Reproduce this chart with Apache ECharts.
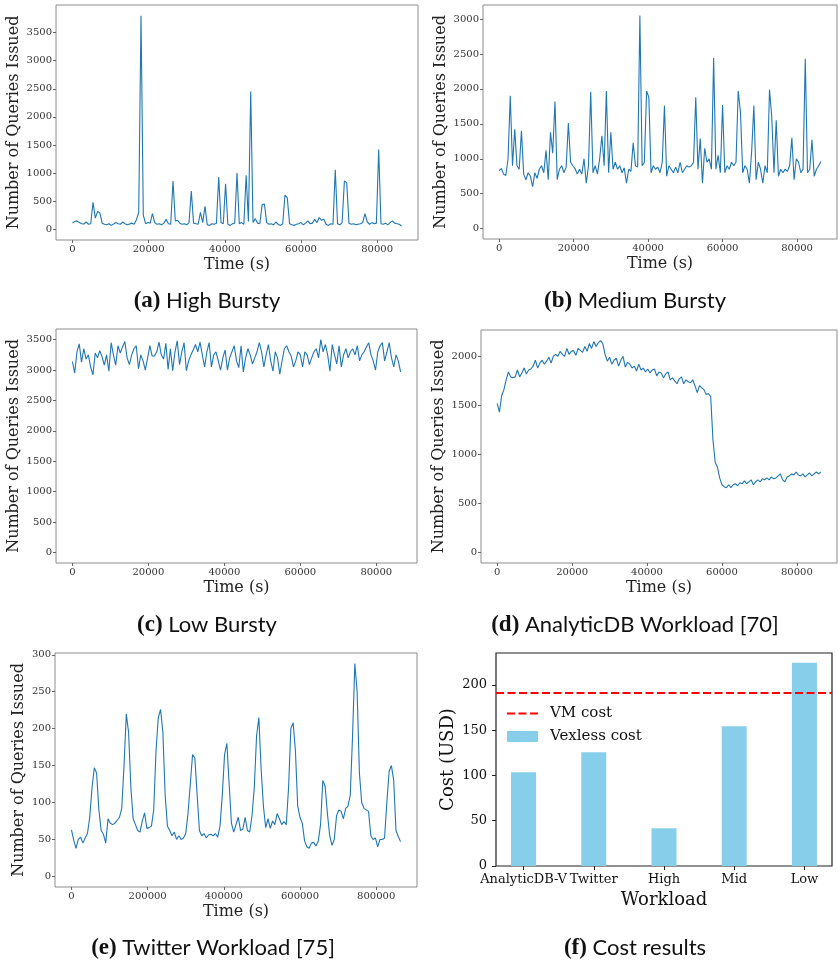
<!DOCTYPE html>
<html>
<head>
<meta charset="utf-8">
<title>Workload traces and cost results</title>
<script src="https://cdn.jsdelivr.net/npm/echarts@6.0.0/dist/echarts.min.js"></script>
<style>
  body, html { margin: 0; padding: 0; width: 100%; height: 100%; overflow: hidden; background: #fff; }
  #main { width: 838px; height: 965px; }
</style>
</head>
<body>
<div id="main"></div>
<script>
// sampling step of the traces, in seconds
const DAY_STEP = 600;
const TWITTER_STEP = 6000;

// (a) High Bursty, one value every 600 s over a day
const highBursty = [
  110, 140, 150, 120, 100, 95, 130, 90, 100, 480, 200, 320, 290, 110, 90, 80, 100, 70, 95, 120,
  100, 90, 130, 100, 80, 95, 110, 90, 170, 300, 3800, 250, 100, 120, 110, 280, 120, 90, 100, 80,
  110, 180, 100, 90, 860, 150, 160, 110, 90, 100, 80, 120, 680, 110, 100, 90, 300, 120, 410, 80,
  70, 100, 90, 110, 930, 120, 100, 810, 90, 70, 100, 110, 1000, 100, 120, 90, 960, 140, 2450, 120,
  190, 110, 100, 440, 450, 120, 90, 100, 80, 130, 90, 70, 100, 610, 560, 100, 80, 70, 90, 100,
  120, 80, 110, 150, 100, 110, 180, 120, 210, 160, 180, 90, 70, 100, 90, 1060, 100, 80, 120, 860,
  830, 110, 90, 100, 80, 90, 100, 120, 280, 130, 90, 120, 100, 110, 1420, 100, 90, 110, 80, 120,
  150, 110, 100, 90, 60
];

// (b) Medium Bursty
const mediumBursty = [
  830, 860, 780, 760, 1000, 1900, 900, 1420, 900, 850, 1400, 780, 700, 800, 750, 600, 800, 720, 850, 900,
  800, 1120, 700, 1380, 1080, 1820, 700, 850, 900, 800, 880, 1510, 950, 900, 860, 780, 850, 780, 1000, 650,
  900, 1960, 800, 900, 780, 1000, 1330, 900, 1970, 800, 1380, 850, 950, 850, 900, 800, 870, 650, 850, 820,
  1230, 900, 880, 3050, 900, 950, 1970, 1880, 800, 900, 850, 880, 800, 950, 1760, 750, 900, 850, 800, 880,
  800, 950, 800, 850, 900, 880, 900, 950, 1880, 850, 1290, 650, 1150, 950, 1000, 850, 2440, 850, 1050, 800,
  1770, 800, 900, 850, 950, 900, 950, 1970, 1670, 800, 900, 850, 650, 1100, 1760, 700, 950, 850, 650, 900,
  800, 1990, 1600, 800, 1550, 750, 850, 800, 850, 820, 900, 1300, 700, 1000, 950, 800, 850, 2430, 800, 850,
  1270, 750, 850, 900, 960
];

// (c) Low Bursty
const lowBursty = [
  3140, 2950, 3300, 3430, 3130, 3350, 3180, 3250, 3050, 2920, 3280, 3200, 3320, 3220, 3080, 3250, 2980, 3450, 3250, 3080,
  3400, 3280, 3380, 3470, 3200, 3090, 3250, 3350, 3400, 3020, 3250, 3150, 3000, 3200, 3400, 3230, 3230, 3300, 3460, 3250,
  3180, 3440, 3010, 3350, 2990, 3300, 3480, 3090, 3300, 3450, 2990, 3150, 3250, 3330, 3420, 3300, 3460, 3250, 3050, 3300,
  3450, 3050, 3250, 3300, 3150, 3000, 3200, 3330, 3000, 3200, 3300, 3400, 3150, 3040, 3400, 2970, 3200, 3350, 3250, 3100,
  3200, 3300, 3450, 3300, 3050, 3250, 3420, 3150, 2980, 3300, 3200, 2930, 3150, 3350, 3400, 3300, 3230, 3050, 3150, 3300,
  3250, 3050, 3300, 3250, 3090, 3200, 3300, 3350, 3200, 3500, 3300, 3420, 3250, 2980, 3420, 3250, 3100, 3400, 3050, 3250,
  3350, 3200, 3300, 3350, 3250, 3400, 3150, 3250, 3300, 3380, 3450, 3250, 3150, 3000, 3300, 3400, 3450, 3150, 3300, 3450,
  3200, 3050, 3250, 3150, 2970
];

// (d) AnalyticDB workload
const analyticDB = [
  1520, 1430, 1600, 1660, 1760, 1840, 1790, 1780, 1790, 1860, 1790, 1830, 1880, 1820, 1860, 1870, 1900, 1960, 1880, 1930,
  1960, 1920, 1950, 1990, 1930, 2000, 2020, 2000, 2050, 2020, 2000, 2080, 2020, 2050, 2060, 2010, 2080, 2060, 2040, 2100,
  2050, 2130, 2080, 2150, 2100, 2140, 2160, 2130, 2020, 1950, 1990, 1920, 1960, 1980, 1900, 1960, 2000, 1890, 1940, 1920,
  1880, 1900, 1850, 1920, 1860, 1880, 1840, 1870, 1830, 1860, 1870, 1800, 1840, 1830, 1780, 1820, 1840, 1760, 1780, 1750,
  1720, 1770, 1790, 1720, 1760, 1740, 1730, 1760, 1700, 1630, 1700, 1680, 1660, 1610, 1620, 1590, 1150, 920, 870, 760,
  690, 670, 660, 690, 660, 690, 700, 680, 710, 700, 730, 700, 720, 740, 690, 720, 740, 720, 750, 740,
  760, 740, 770, 750, 760, 780, 800, 740, 720, 770, 780, 800, 790, 820, 790, 780, 800, 770, 790, 810,
  780, 800, 820, 800, 820
];

// (e) Twitter workload, one value every 6000 s over ten days
const twitter = [
  63, 49, 38, 50, 53, 45, 52, 58, 80, 120, 147, 140, 90, 62, 57, 45, 78, 72, 70, 72,
  76, 80, 92, 150, 220, 195, 120, 78, 70, 62, 60, 75, 86, 65, 66, 68, 90, 170, 215, 226,
  195, 110, 68, 62, 55, 60, 50, 55, 50, 52, 58, 85, 125, 165, 160, 110, 62, 55, 58, 52,
  56, 57, 55, 58, 53, 68, 110, 165, 180, 125, 72, 60, 70, 80, 62, 64, 80, 62, 60, 82,
  120, 190, 215, 145, 95, 66, 78, 65, 75, 70, 85, 78, 70, 74, 70, 120, 200, 208, 170, 95,
  80, 72, 48, 40, 38, 45, 46, 41, 48, 70, 130, 122, 85, 55, 42, 50, 82, 90, 88, 78,
  92, 95, 110, 190, 288, 250, 140, 100, 92, 90, 88, 55, 50, 52, 40, 50, 50, 52, 100, 142,
  150, 130, 62, 54, 47
];

// tick values
const dayTicks = [0, 20000, 40000, 60000, 80000];
const twitterTicks = [0, 200000, 400000, 600000, 800000];
const highTicks = [0, 500, 1000, 1500, 2000, 2500, 3000, 3500];
const mediumTicks = [0, 500, 1000, 1500, 2000, 2500, 3000];
const lowTicks = [0, 500, 1000, 1500, 2000, 2500, 3000, 3500];
const analyticTicks = [0, 500, 1000, 1500, 2000];
const twitterYTicks = [0, 50, 100, 150, 200, 250, 300];
const costTicks = [0, 50, 100, 150, 200];

// (f) cost results
const costWorkloads = ['AnalyticDB-V', 'Twitter', 'High', 'Mid', 'Low'];
const vexlessCost = [103.5, 125.6, 41.6, 154.3, 224.3];
const vmCost = 191;

const SERIF = 'DejaVu Serif';
const SANS = 'Lato';
const TAG_FONT = 'Liberation Serif';

function toPairs(values, step) {
  return values.map((v, i) => [i * step, v]);
}

function captionText(x, y, tag, caption) {
  return {
    type: 'text', x: x, y: y,
    style: {
      text: '{b|' + tag + '} ' + caption,
      rich: { b: { fontFamily: TAG_FONT, fontSize: 23, fontWeight: 'bold', fill: '#111' } },
      fontFamily: SANS, fontSize: 22, fill: '#111', align: 'center', verticalAlign: 'middle'
    }
  };
}

const panels = [
  { box: [56, 5, 362, 235], data: highBursty, step: DAY_STEP, xTicks: dayTicks, xr: [-4320, 90720], yTicks: highTicks, yr: [-190, 3990], tag: '(a)', caption: 'High Bursty', cap: [207, 301] },
  { box: [483, 5, 354, 234], data: mediumBursty, step: DAY_STEP, xTicks: dayTicks, xr: [-4320, 90720], yTicks: mediumTicks, yr: [-148, 3200], tag: '(b)', caption: 'Medium Bursty', cap: [635, 301] },
  { box: [56, 329, 361, 234], data: lowBursty, step: DAY_STEP, xTicks: dayTicks, xr: [-4320, 90720], yTicks: lowTicks, yr: [-175, 3675], tag: '(c)', caption: 'Low Bursty', cap: [207, 625] },
  { box: [481, 330, 356, 233], data: analyticDB, step: DAY_STEP, xTicks: dayTicks, xr: [-4320, 90720], yTicks: analyticTicks, yr: [-108, 2268], tag: '(d)', caption: 'AnalyticDB Workload [70]', cap: [635, 625] },
  { box: [55, 653, 362, 234], data: twitter, step: TWITTER_STEP, xTicks: twitterTicks, xr: [-43200, 907200], yTicks: twitterYTicks, yr: [-14.4, 302.4], tag: '(e)', caption: 'Twitter Workload [75]', cap: [213, 948] }
];

const grid = [], xAxis = [], yAxis = [], series = [], graphic = [];

panels.forEach((p, i) => {
  grid.push({
    left: p.box[0], top: p.box[1], width: p.box[2], height: p.box[3],
    show: true, borderColor: '#8c8c8c', borderWidth: 1, backgroundColor: 'transparent'
  });
  xAxis.push({
    type: 'value', gridIndex: i, min: p.xr[0], max: p.xr[1],
    axisLine: { show: false, onZero: false }, splitLine: { show: false },
    axisTick: { show: true, length: 3, customValues: p.xTicks, lineStyle: { color: '#666' } },
    axisLabel: { customValues: p.xTicks, fontFamily: SERIF, fontSize: 10, color: '#333', margin: 4, formatter: v => String(v) },
    name: 'Time (s)', nameLocation: 'middle', nameGap: 17,
    nameTextStyle: { fontFamily: SERIF, fontSize: 16, color: '#222' }
  });
  yAxis.push({
    type: 'value', gridIndex: i, min: p.yr[0], max: p.yr[1],
    axisLine: { show: false, onZero: false }, splitLine: { show: false },
    axisTick: { show: true, length: 3, customValues: p.yTicks, lineStyle: { color: '#666' } },
    axisLabel: { customValues: p.yTicks, fontFamily: SERIF, fontSize: 10, color: '#333', margin: 4, formatter: v => String(v) },
    name: 'Number of Queries Issued', nameLocation: 'middle', nameGap: i === 4 ? 28 : 34,
    nameTextStyle: { fontFamily: SERIF, fontSize: 16, color: '#222' }
  });
  series.push({
    type: 'line', xAxisIndex: i, yAxisIndex: i, data: toPairs(p.data, p.step),
    showSymbol: false, symbol: 'none', lineStyle: { color: '#1f77b4', width: 1.1 }
  });
  graphic.push(captionText(p.cap[0], p.cap[1], p.tag, p.caption));
});

// (f) cost panel
const fx = [-0.3925, 4.3925];
grid.push({ left: 496, top: 653, width: 336, height: 213, show: true, borderColor: '#222', borderWidth: 1.2, backgroundColor: 'transparent' });
xAxis.push({
  type: 'value', gridIndex: 5, min: fx[0], max: fx[1],
  axisLine: { show: false, onZero: false }, splitLine: { show: false },
  axisTick: { show: true, length: 4, customValues: [0, 1, 2, 3, 4], lineStyle: { color: '#222' } },
  axisLabel: { customValues: [0, 1, 2, 3, 4], fontFamily: SERIF, fontSize: 13, color: '#111', margin: 7, formatter: v => costWorkloads[v] },
  name: 'Workload', nameLocation: 'middle', nameGap: 25,
  nameTextStyle: { fontFamily: SERIF, fontSize: 18, color: '#111' }
});
yAxis.push({
  type: 'value', gridIndex: 5, min: 0, max: 235.2,
  axisLine: { show: false, onZero: false }, splitLine: { show: false },
  axisTick: { show: true, length: 4, customValues: costTicks, lineStyle: { color: '#222' } },
  axisLabel: { customValues: costTicks, fontFamily: SERIF, fontSize: 13, color: '#111', margin: 9, formatter: v => String(v) },
  name: 'Cost (USD)', nameLocation: 'middle', nameGap: 39,
  nameTextStyle: { fontFamily: SERIF, fontSize: 18, color: '#111' }
});
series.push({
  name: 'Vexless cost', type: 'bar', xAxisIndex: 5, yAxisIndex: 5, barWidth: 25,
  data: vexlessCost.map((v, i) => [i, v]), itemStyle: { color: '#87ceeb' }
});
series.push({
  name: 'VM cost', type: 'line', xAxisIndex: 5, yAxisIndex: 5, symbol: 'none', showSymbol: false,
  data: [[fx[0], vmCost], [fx[1], vmCost]], itemStyle: { color: '#ff0000' },
  lineStyle: { color: '#ff0000', width: 2, type: [8, 3.5] }, z: 5
});
graphic.push(captionText(635, 948, '(f)', 'Cost results'));

const chart = echarts.init(document.getElementById('main'), null, { renderer: 'canvas' });
chart.setOption({
  animation: false,
  backgroundColor: '#fff',
  grid, xAxis, yAxis, series, graphic,
  legend: {
    data: [{ name: 'VM cost', itemStyle: { opacity: 0 } }, { name: 'Vexless cost', icon: 'rect' }],
    left: 501, top: 701, orient: 'vertical', itemWidth: 31, itemHeight: 11, itemGap: 8,
    textStyle: { fontFamily: SERIF, fontSize: 15, color: '#111', padding: [0, 0, 0, 7] }
  }
});
</script>
</body>
</html>
